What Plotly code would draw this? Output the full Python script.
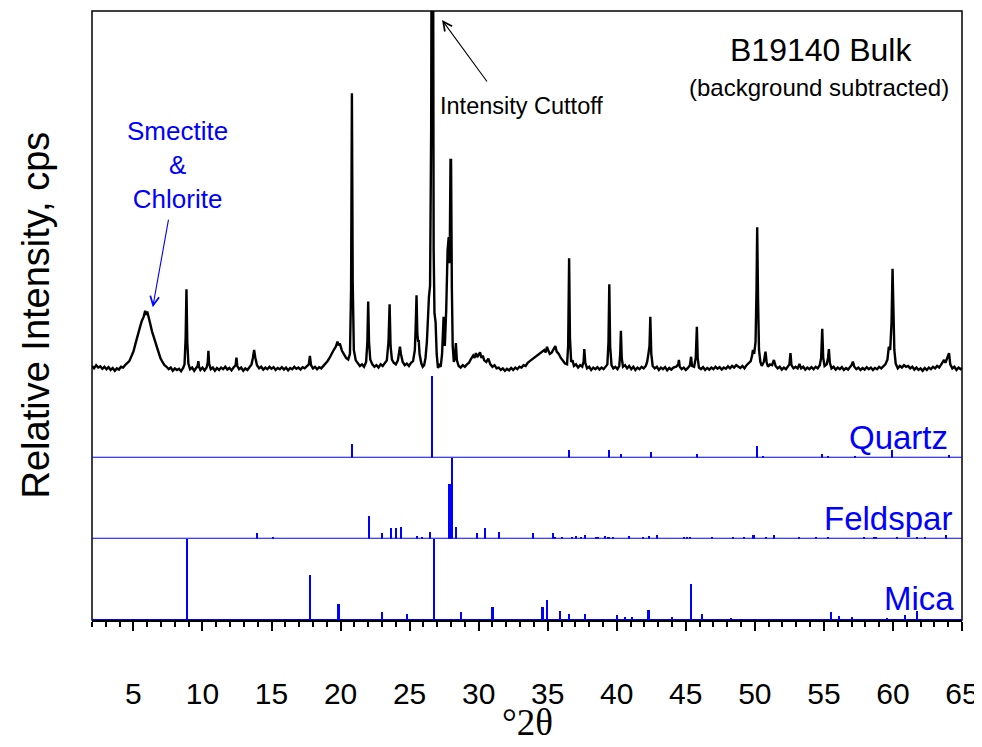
import plotly.graph_objects as go

# ---------------- data ----------------
# measured XRD pattern (2theta, relative counts), background subtracted
pattern_points = [
    (2.00, 10), (2.15, 4), (2.30, 12), (2.45, 6), (2.60, 9), (2.75, 3), (2.90, 8), (3.05, 2),
    (3.20, 7), (3.35, 0), (3.50, 5), (3.65, -2), (3.80, 4), (3.95, 1), (4.10, 8), (4.25, 6),
    (4.40, 12), (4.55, 18), (4.70, 22), (4.85, 34), (5.00, 46), (5.15, 66), (5.30, 88), (5.45, 104),
    (5.60, 122), (5.75, 134), (5.85, 148), (5.92, 138), (6.00, 146), (6.08, 132), (6.20, 118),
    (6.35, 96), (6.50, 78), (6.65, 60), (6.80, 42), (6.95, 30), (7.10, 20), (7.25, 12), (7.40, 8),
    (7.55, 2), (7.70, 6), (7.85, -2), (8.00, 4), (8.15, 0), (8.30, 3), (8.45, -3), (8.60, 5),
    (8.70, 14), (8.78, 80), (8.84, 202), (8.90, 70), (8.98, 16), (9.10, 2), (9.25, 6), (9.40, -2),
    (9.55, 5), (9.65, 10), (9.70, 22), (9.75, 8), (9.85, 0), (10.00, 6), (10.15, -1), (10.30, 6),
    (10.38, 18), (10.43, 48), (10.48, 16), (10.60, 2), (10.75, 6), (10.90, -2), (11.05, 5),
    (11.20, 0), (11.35, 6), (11.50, 2), (11.65, 8), (11.80, 1), (11.95, 5), (12.10, -1), (12.25, 6),
    (12.40, 12), (12.46, 31), (12.52, 10), (12.65, 2), (12.80, 6), (12.95, -2), (13.10, 4),
    (13.25, 0), (13.40, 6), (13.55, 14), (13.65, 30), (13.74, 50), (13.82, 32), (13.95, 12),
    (14.10, 4), (14.25, 8), (14.40, 1), (14.55, 6), (14.70, 2), (14.85, 8), (15.00, 3), (15.15, 7),
    (15.30, 0), (15.45, 5), (15.60, 2), (15.75, 7), (15.90, 1), (16.05, 6), (16.20, -1), (16.35, 5),
    (16.50, 2), (16.65, 8), (16.80, 3), (16.95, 6), (17.10, 1), (17.25, 7), (17.40, 4), (17.55, 9),
    (17.70, 14), (17.78, 35), (17.86, 12), (18.00, 4), (18.15, 8), (18.30, 2), (18.45, 7),
    (18.60, 4), (18.75, 10), (18.90, 14), (19.05, 22), (19.20, 30), (19.35, 42), (19.50, 50),
    (19.65, 58), (19.78, 71), (19.85, 62), (19.95, 66), (20.10, 48), (20.25, 40), (20.40, 30),
    (20.55, 26), (20.68, 40), (20.76, 200), (20.82, 692), (20.88, 220), (20.96, 50), (21.10, 24),
    (21.25, 16), (21.40, 10), (21.55, 14), (21.70, 8), (21.85, 20), (21.94, 70), (22.00, 171),
    (22.06, 70), (22.15, 26), (22.30, 14), (22.45, 8), (22.60, 12), (22.75, 6), (22.90, 14),
    (23.05, 10), (23.20, 16), (23.35, 24), (23.47, 70), (23.55, 164), (23.62, 60), (23.72, 26),
    (23.85, 18), (24.00, 14), (24.15, 24), (24.25, 42), (24.30, 58), (24.37, 40), (24.50, 20),
    (24.65, 12), (24.80, 16), (24.95, 10), (25.10, 18), (25.25, 22), (25.38, 50), (25.44, 110),
    (25.50, 187), (25.56, 90), (25.62, 70), (25.66, 75), (25.72, 40), (25.85, 16), (25.95, 8),
    (26.05, 12), (26.15, 30), (26.25, 70), (26.32, 140), (26.40, 183), (26.48, 210), (26.56, 600),
    (26.62, 1500), (26.68, 1500), (26.74, 300), (26.80, 142), (26.88, 120), (26.96, 40),
    (27.05, 5), (27.15, 12), (27.25, 8), (27.35, 40), (27.46, 133), (27.55, 60), (27.65, 150),
    (27.75, 300), (27.83, 332), (27.90, 267), (27.96, 525), (28.00, 525), (28.06, 200), (28.12, 60),
    (28.20, 20), (28.28, 30), (28.35, 67), (28.42, 25), (28.55, 10), (28.70, 6), (28.85, 12),
    (29.00, 8), (29.15, 14), (29.30, 18), (29.45, 28), (29.60, 36), (29.70, 30), (29.80, 42),
    (29.90, 32), (30.00, 38), (30.10, 44), (30.20, 30), (30.30, 36), (30.40, 24), (30.55, 20),
    (30.70, 28), (30.85, 14), (31.00, 8), (31.15, 12), (31.30, 4), (31.45, 6), (31.60, 0),
    (31.75, 4), (31.90, -2), (32.05, 3), (32.20, -1), (32.35, 5), (32.50, 0), (32.65, 6),
    (32.80, 2), (32.95, 8), (33.10, 6), (33.25, 12), (33.40, 10), (33.55, 18), (33.70, 22),
    (33.85, 26), (34.00, 30), (34.15, 36), (34.30, 38), (34.45, 44), (34.60, 48), (34.75, 50),
    (34.85, 44), (34.95, 58), (35.05, 48), (35.15, 40), (35.30, 44), (35.45, 52), (35.55, 60),
    (35.65, 46), (35.80, 40), (35.95, 30), (36.10, 24), (36.25, 16), (36.40, 14), (36.48, 60),
    (36.55, 279), (36.61, 80), (36.70, 20), (36.80, 24), (36.90, 10), (37.05, 14), (37.20, 6),
    (37.35, 12), (37.50, 8), (37.60, 22), (37.65, 52), (37.72, 18), (37.85, 4), (38.00, 8),
    (38.15, 0), (38.30, 6), (38.45, 2), (38.60, 7), (38.75, 1), (38.90, 6), (39.05, 2), (39.20, 8),
    (39.32, 14), (39.40, 70), (39.46, 214), (39.52, 60), (39.62, 12), (39.75, 4), (39.90, 8),
    (40.05, 2), (40.18, 10), (40.25, 40), (40.30, 98), (40.36, 30), (40.45, 8), (40.60, 12),
    (40.75, 4), (40.90, 10), (41.05, 2), (41.20, 8), (41.35, 0), (41.50, 6), (41.65, 2), (41.80, 8),
    (41.95, 4), (42.10, 10), (42.20, 20), (42.30, 42), (42.37, 60), (42.43, 133), (42.50, 40),
    (42.60, 10), (42.75, 4), (42.90, 8), (43.05, 0), (43.20, 6), (43.35, 2), (43.50, 7),
    (43.65, -1), (43.80, 5), (43.95, 1), (44.10, 6), (44.30, 8), (44.45, 14), (44.50, 25),
    (44.56, 8), (44.70, 2), (44.85, 6), (45.00, 0), (45.15, 5), (45.30, 12), (45.38, 33),
    (45.45, 10), (45.60, 8), (45.72, 30), (45.80, 108), (45.86, 30), (45.95, 6), (46.10, 2),
    (46.25, 7), (46.40, 0), (46.55, 5), (46.70, 1), (46.85, 6), (47.00, 2), (47.15, 8), (47.30, 3),
    (47.45, 7), (47.60, 1), (47.75, 6), (47.90, 3), (48.05, 9), (48.20, 4), (48.35, 10),
    (48.50, 6), (48.65, 12), (48.80, 8), (48.95, 5), (49.10, 10), (49.25, 4), (49.40, 12),
    (49.55, 16), (49.70, 22), (49.80, 36), (49.86, 50), (49.95, 40), (50.05, 70), (50.12, 200),
    (50.17, 357), (50.23, 180), (50.30, 50), (50.40, 20), (50.50, 10), (50.65, 20), (50.77, 46),
    (50.85, 20), (50.95, 8), (51.10, 14), (51.25, 12), (51.38, 25), (51.50, 10), (51.65, 4),
    (51.80, 8), (51.95, 1), (52.10, 6), (52.25, 2), (52.40, 8), (52.50, 14), (52.58, 42),
    (52.65, 12), (52.80, 4), (52.95, 8), (53.10, 4), (53.23, 15), (53.35, 4), (53.50, 8),
    (53.65, 1), (53.80, 6), (53.95, 2), (54.10, 7), (54.25, 2), (54.40, 8), (54.55, 4),
    (54.70, 12), (54.80, 30), (54.88, 103), (54.95, 30), (55.05, 10), (55.20, 14), (55.30, 30),
    (55.36, 52), (55.43, 18), (55.55, 4), (55.70, 8), (55.85, 1), (56.00, 6), (56.15, 2),
    (56.30, 7), (56.45, 0), (56.60, 5), (56.75, 1), (56.90, 8), (57.00, 12), (57.10, 21),
    (57.20, 8), (57.35, 2), (57.50, 6), (57.65, 0), (57.80, 5), (57.95, 1), (58.10, 7),
    (58.25, 2), (58.40, 6), (58.55, 0), (58.70, 5), (58.85, 2), (59.00, 8), (59.15, 4),
    (59.30, 10), (59.45, 14), (59.60, 26), (59.70, 58), (59.80, 50), (59.90, 120), (59.97, 253),
    (60.03, 150), (60.10, 50), (60.20, 16), (60.35, 4), (60.50, 10), (60.65, 6), (60.80, 12),
    (60.95, 8), (61.10, 10), (61.25, 4), (61.40, 8), (61.55, 1), (61.70, 6), (61.85, 0),
    (62.00, 4), (62.15, -2), (62.30, 5), (62.45, 0), (62.60, 6), (62.75, 2), (62.90, 8),
    (63.05, 4), (63.20, 10), (63.35, 6), (63.50, 14), (63.60, 20), (63.70, 25), (63.80, 18),
    (63.95, 30), (64.06, 42), (64.15, 14), (64.30, 4), (64.45, 8), (64.60, 0), (64.75, 6),
    (64.90, 2), (65.00, 5),
]
pattern_two_theta = [p[0] for p in pattern_points]
pattern_counts = [p[1] for p in pattern_points]

# reference stick patterns (2theta, relative intensity %)
quartz_pos = [20.86, 26.64, 36.54, 39.47, 40.29, 42.45, 45.79, 50.14, 50.62, 54.87, 55.32,
              57.24, 59.96, 64.03]
quartz_int = [17, 100, 10, 9, 5, 7, 5, 14, 2, 5, 2, 2, 10, 3]

feldspar_pos = [13.93, 15.10, 22.07, 23.00, 23.65, 24.00, 24.37, 25.53, 25.90, 26.47, 27.85,
                27.93, 28.04, 28.33, 29.85, 30.46, 31.45, 33.93, 35.36, 35.55, 36.04, 36.76,
                37.07, 37.40, 37.70, 38.50, 38.67, 39.16, 39.40, 39.70, 40.90, 41.88, 42.34,
                42.92, 44.90, 45.10, 45.30, 46.90, 48.40, 49.20, 49.90, 50.80, 51.40, 53.20,
                54.40, 55.30, 57.90, 58.60, 58.80, 60.30, 61.75, 62.30, 63.86]
feldspar_int = [7, 2, 28, 7, 14, 13, 15, 4, 2, 9, 68, 68, 100, 15, 8, 14, 9, 8, 8, 3, 3, 2,
                4, 2, 5, 3, 2, 4, 2, 2, 4, 2, 4, 5, 2, 2, 2, 2, 3, 3, 5, 3, 5, 2, 2, 2, 2, 2,
                2, 2, 2, 2, 5]

mica_pos = [8.86, 17.78, 19.78, 19.88, 22.99, 24.80, 26.78, 28.72, 31.00, 34.62, 34.98, 35.90,
            36.57, 37.72, 40.00, 40.60, 41.10, 42.30, 44.00, 45.38, 46.16, 48.25, 55.50, 56.10,
            57.05, 59.58, 60.90, 61.75]
mica_int = [100, 56, 20, 20, 10, 8, 100, 10, 16, 16, 25, 12, 8, 8, 6, 4, 4, 13, 4, 45, 8, 3,
            10, 5, 4, 3, 6, 12]

x_major_ticks = [5, 10, 15, 20, 25, 30, 35, 40, 45, 50, 55, 60, 65]

# ---------------- figure ----------------
BLUE = "#0000FF"
SANS = "Liberation Sans, Arial, sans-serif"
SERIF = "Liberation Serif, Times New Roman, serif"

fig = go.Figure()

fig.add_trace(go.Scatter(x=pattern_two_theta, y=pattern_counts, mode="lines",
                         line=dict(color="black", width=2.4), yaxis="y", showlegend=False,
                         hoverinfo="skip"))

for pos, inten, yax in [(quartz_pos, quartz_int, "y2"),
                        (feldspar_pos, feldspar_int, "y3"),
                        (mica_pos, mica_int, "y4")]:
    fig.add_trace(go.Bar(x=pos, y=inten, width=0.15, yaxis=yax,
                         marker=dict(color=BLUE, line=dict(width=0)),
                         showlegend=False, hoverinfo="skip"))

# domains (fractions of the plot area height)
d_mica = [0.0, 0.1335]
d_feld = [0.1335, 0.2665]
d_qtz = [0.2665, 0.4007]
d_pat = [0.4007, 1.0]

hidden_y = dict(showticklabels=False, showgrid=False, zeroline=False, showline=False,
                ticks="", anchor="x", automargin=False)

# the page body offsets the figure by 8 px, so the figure is 974 x 739
fig.update_layout(
    width=974, height=739,
    margin=dict(l=84, r=20, t=3, b=127, autoexpand=False),
    paper_bgcolor="white", plot_bgcolor="white",
    font=dict(family=SANS, color="black"),
    bargap=0,
    xaxis=dict(range=[2, 65], anchor="y4", showgrid=False, zeroline=False, automargin=False,
               showline=True, linecolor="black", linewidth=1.5,
               tickmode="array", tickvals=x_major_ticks,
               ticks="outside", ticklen=9, tickwidth=1.5, tickcolor="black",
               tickfont=dict(family=SANS, size=30, color="black"),
               ticklabelstandoff=37, ticklabeloverflow="allow",
               minor=dict(ticks="outside", ticklen=5, tickwidth=1.5, tickcolor="black",
                          dtick=1, tick0=0, showgrid=False)),
    yaxis=dict(domain=d_pat, range=[-15, 897.5], **hidden_y),
    yaxis2=dict(domain=d_qtz, range=[0, 100], **hidden_y),
    yaxis3=dict(domain=d_feld, range=[0, 100], **hidden_y),
    yaxis4=dict(domain=d_mica, range=[0, 100], **hidden_y),
)

# frame
fig.add_shape(type="rect", xref="paper", yref="paper", x0=0, x1=1, y0=0, y1=1,
              line=dict(color="black", width=1.5), layer="above")
# blue baselines of the stick panels
for yref in ["y2", "y3", "y4"]:
    fig.add_shape(type="line", xref="paper", x0=0, x1=1, yref=yref, y0=0, y1=0,
                  line=dict(color=BLUE, width=2), layer="above")


def px_to_paper(px, py):
    # plot area spans 92..962 px horizontally and 11..620 px vertically on screen
    return (px - 92) / 870, (620 - py) / 609


bx, by = px_to_paper(821, 50)
sx, sy = px_to_paper(819, 88)
tx, ty = px_to_paper(35, 315.5)
xtx, xty = px_to_paper(527, 723)

annotations = [
    dict(x=8.2, y=512, xref="x", yref="y", text="Smectite<br>&<br>Chlorite", showarrow=False,
         xanchor="center", yanchor="middle",
         font=dict(family=SANS, size=26, color=BLUE), align="center"),
    dict(x=6.4, y=157, xref="x", yref="y", text="", showarrow=True, ax=16, ay=-89,
         arrowhead=5, arrowsize=1.6, arrowwidth=1.1, arrowcolor=BLUE),
    dict(x=33.1, y=660, xref="x", yref="y", text="Intensity Cuttoff", showarrow=False,
         xanchor="center", yanchor="middle",
         font=dict(family=SANS, size=23.5, color="black")),
    dict(x=27.35, y=875, xref="x", yref="y", text="", showarrow=True, ax=46, ay=63,
         arrowhead=5, arrowsize=1.6, arrowwidth=1.1, arrowcolor="black"),
    dict(x=bx, y=by, xref="paper", yref="paper", text="B19140 Bulk", showarrow=False,
         xanchor="center", yanchor="middle",
         font=dict(family=SANS, size=32, color="black")),
    dict(x=sx, y=sy, xref="paper", yref="paper", text="(background subtracted)",
         showarrow=False, xanchor="center", yanchor="middle",
         font=dict(family=SANS, size=24, color="black")),
    dict(x=64.1, y=25, xref="x", yref="y2", text="Quartz", showarrow=False, xanchor="right",
         yanchor="middle", font=dict(family=SANS, size=33, color=BLUE)),
    dict(x=64.4, y=25.5, xref="x", yref="y3", text="Feldspar", showarrow=False,
         xanchor="right", yanchor="middle", font=dict(family=SANS, size=33, color=BLUE)),
    dict(x=64.6, y=26.4, xref="x", yref="y4", text="Mica", showarrow=False, xanchor="right",
         yanchor="middle", font=dict(family=SANS, size=33, color=BLUE)),
    dict(x=tx, y=ty, xref="paper", yref="paper", text="Relative Intensity, cps",
         textangle=-90, showarrow=False, xanchor="center", yanchor="middle",
         font=dict(family=SANS, size=38, color="black")),
    dict(x=xtx, y=xty, xref="paper", yref="paper", text="°2θ", showarrow=False,
         xanchor="center", yanchor="middle", font=dict(family=SERIF, size=37, color="black")),
]
fig.update_layout(annotations=annotations)

fig.write_html("out.html")
